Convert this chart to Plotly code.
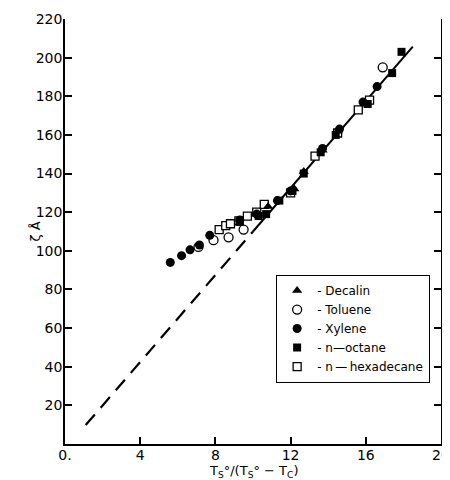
import plotly.graph_objects as go

# ---- data ----
decalin_x = [10.8, 12.2, 12.7, 13.7, 14.5]
decalin_y = [123, 132, 141, 152, 162]

toluene_x = [7.1, 7.9, 8.7, 9.5, 16.9]
toluene_y = [102, 105.5, 107, 111, 195]

xylene_x = [5.6, 6.2, 6.65, 7.15, 7.7, 9.3, 10.2, 11.3, 12.0, 13.7, 14.6, 15.85, 16.6]
xylene_y = [94, 97.5, 100.5, 103, 108, 116, 119, 126, 131, 153, 163, 177, 185]

octane_x = [9.3, 10.3, 10.7, 11.4, 12.1, 12.7, 13.6, 14.4, 16.1, 17.4, 17.9]
octane_y = [115, 118, 119, 126, 131, 140, 151, 160, 176, 192, 203]

hexadecane_x = [8.2, 8.55, 8.8, 9.25, 9.7, 10.2, 10.6, 12.0, 13.3, 14.5, 15.6, 16.2]
hexadecane_y = [111, 113, 114, 115.5, 118, 120, 124, 130, 149, 161, 173, 178]

fit_dash_x = [1.1, 10.0]
fit_dash_y = [9.8, 110]
fit_solid_x = [10.0, 18.5]
fit_solid_y = [110, 205.7]

x_tickvals = [0, 4, 8, 12, 16, 20]
x_ticktext = ["0.", "4", "8", "12", "16", "20"]
y_tickvals = [20, 40, 60, 80, 100, 120, 140, 160, 180, 200, 220]
y_ticktext = [str(v) for v in y_tickvals]

fig = go.Figure()

fig.add_trace(go.Scatter(x=fit_dash_x, y=fit_dash_y, mode="lines",
                         line=dict(color="black", width=2.2, dash="14px,9px"),
                         showlegend=False, hoverinfo="skip"))
fig.add_trace(go.Scatter(x=fit_solid_x, y=fit_solid_y, mode="lines",
                         line=dict(color="black", width=2),
                         showlegend=False, hoverinfo="skip"))

msize = 9
fig.add_trace(go.Scatter(x=hexadecane_x, y=hexadecane_y, mode="markers", name="- n\u2009\u2014\u2009hexadecane",
                         marker=dict(symbol="square", size=msize - 1, color="white",
                                     line=dict(color="black", width=1.3))))
fig.add_trace(go.Scatter(x=toluene_x, y=toluene_y, mode="markers", name="- Toluene",
                         marker=dict(symbol="circle", size=msize, color="white",
                                     line=dict(color="black", width=1.3))))
fig.add_trace(go.Scatter(x=xylene_x, y=xylene_y, mode="markers", name="- Xylene",
                         marker=dict(symbol="circle", size=msize, color="black")))
fig.add_trace(go.Scatter(x=octane_x, y=octane_y, mode="markers", name="- n\u2014octane",
                         marker=dict(symbol="square", size=msize - 1, color="black")))
fig.add_trace(go.Scatter(x=decalin_x, y=decalin_y, mode="markers", name="- Decalin",
                         marker=dict(symbol="triangle-up", size=msize, color="black")))

order = {"- Decalin": 1, "- Toluene": 2, "- Xylene": 3, "- n\u2014octane": 4,
         "- n\u2009\u2014\u2009hexadecane": 5}
for tr in fig.data:
    if tr.name in order:
        tr.legendrank = order[tr.name]

font = dict(family="DejaVu Sans, Liberation Sans, sans-serif", size=14, color="black")

# the page body has an 8px default margin, so margins are compensated
fig.update_layout(
    width=450, height=480,
    margin=dict(l=57, r=17, t=11, b=44),
    paper_bgcolor="white", plot_bgcolor="white",
    font=font,
    legend=dict(x=0.561, y=0.398, xanchor="left", yanchor="top",
                bordercolor="black", borderwidth=1.2, bgcolor="white",
                font=dict(family="DejaVu Sans, sans-serif", size=12, color="black"),
                itemwidth=30, tracegroupgap=0),
    xaxis=dict(range=[0, 20], tickvals=x_tickvals, ticktext=x_ticktext,
               showline=True, linecolor="black", linewidth=1.5, mirror=False,
               ticks="inside", ticklen=7, tickwidth=1.5, tickcolor="black",
               ticklabelstandoff=-3, automargin=False,
               showgrid=False, zeroline=False),
    yaxis=dict(range=[0, 220], tickvals=y_tickvals, ticktext=y_ticktext,
               showline=True, linecolor="black", linewidth=1.5, mirror="ticks",
               ticks="inside", ticklen=7, tickwidth=1.5, tickcolor="black",
               ticklabelstandoff=-2, automargin=False,
               showgrid=False, zeroline=False),
    annotations=[
        dict(text="T<sub>S</sub>°/(T<sub>S</sub>° − T<sub>C</sub>)",
             xref="paper", yref="paper", x=0.5, y=0, xanchor="center",
             yanchor="middle", yshift=-27, showarrow=False, font=dict(size=13)),
        dict(text="ζ Å", textangle=-90,
             xref="paper", yref="paper", x=0, y=0.5, xanchor="center",
             yanchor="middle", xshift=-30, showarrow=False, font=dict(size=13)),
    ],
)

fig.write_html("out.html")
